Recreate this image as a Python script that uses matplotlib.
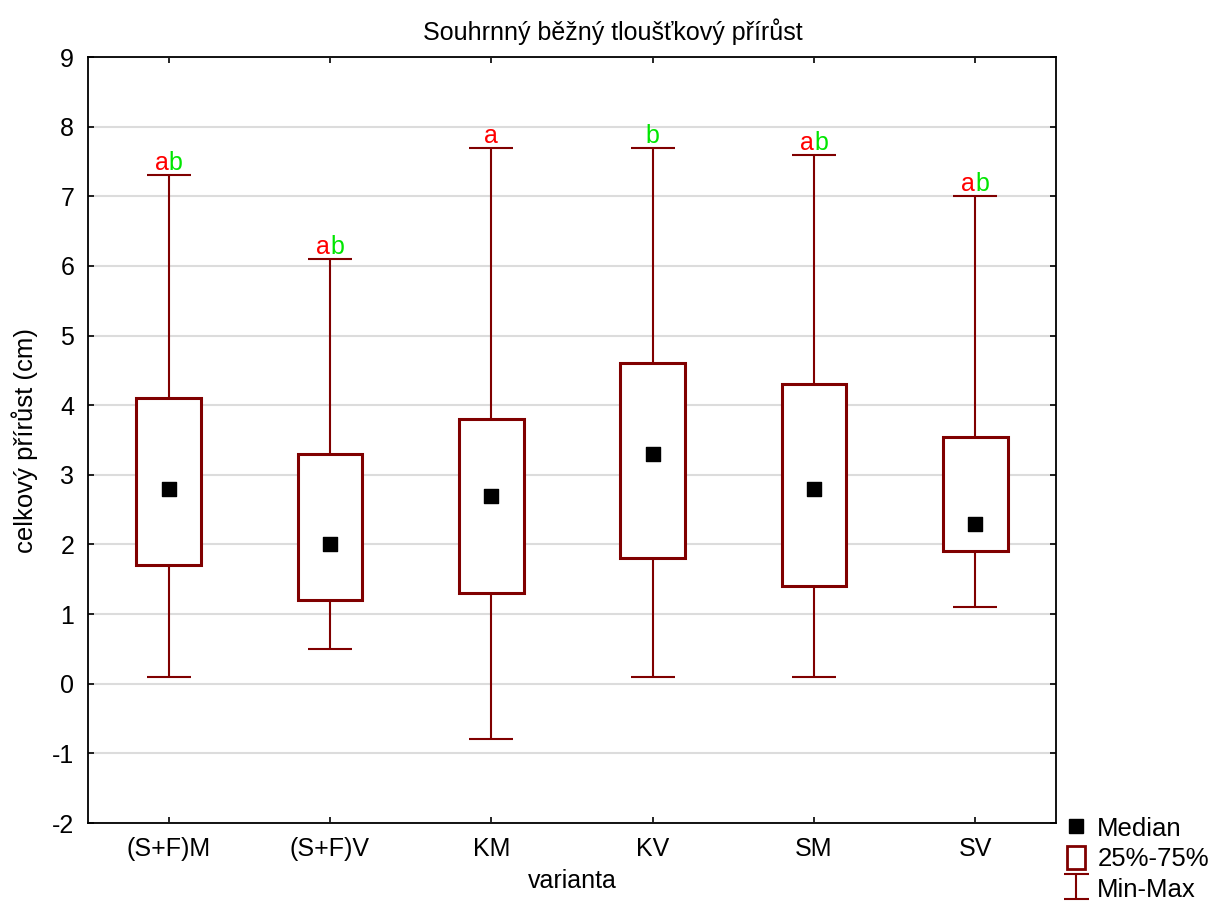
import numpy as np
import matplotlib
matplotlib.use("Agg")
import matplotlib.pyplot as plt
from matplotlib.patches import Rectangle
from matplotlib.lines import Line2D

plt.rcParams.update({
    "font.family": ["Liberation Sans", "DejaVu Sans"],
    "font.size": 18,
    "axes.unicode_minus": False,
})

# ---------------------------------------------------------------------------
# Data
# ---------------------------------------------------------------------------
categories = ["(S+F)M", "(S+F)V", "KM", "KV", "SM", "SV"]
mins    = [0.1, 0.5, -0.8, 0.1, 0.1, 1.1]
q1      = [1.7, 1.2, 1.3, 1.8, 1.4, 1.9]
medians = [2.8, 2.0, 2.7, 3.3, 2.8, 2.3]
q3      = [4.1, 3.3, 3.8, 4.6, 4.3, 3.55]
maxs    = [7.3, 6.1, 7.7, 7.7, 7.6, 7.0]
letters_a = [True, True, True, False, True, True]
letters_b = [True, True, False, True, True, True]

DARK_RED = "#800000"
RED = "#ff0000"
GREEN = "#00e600"

fig = plt.figure(figsize=(12.09, 9.05), dpi=100)
ax = fig.add_axes([0.0728, 0.0906, 0.8006, 0.8464])

x = np.arange(1, len(categories) + 1)
med = np.array(medians)
lo = med - np.array(mins)
hi = np.array(maxs) - med

# whiskers (Min-Max)
ax.errorbar(x, med, yerr=[lo, hi], fmt="none", ecolor=DARK_RED,
            elinewidth=1.5, capsize=16, capthick=1.5, zorder=2)

# boxes (25%-75%)
ax.bar(x, np.array(q3) - np.array(q1), bottom=q1, width=0.4,
       facecolor="white", edgecolor=DARK_RED, linewidth=2.2, zorder=3)

# medians
ax.scatter(x, medians, marker="s", s=110, color="black", zorder=4)

# significance letters
for xi, top, la, lb in zip(x, maxs, letters_a, letters_b):
    if la and lb:
        ax.annotate("a", (xi, top), xytext=(0, 0), textcoords="offset points",
                    ha="right", va="bottom", color=RED)
        ax.annotate("b", (xi, top), xytext=(0, 0), textcoords="offset points",
                    ha="left", va="bottom", color=GREEN)
    elif la:
        ax.annotate("a", (xi, top), xytext=(0, 0), textcoords="offset points",
                    ha="center", va="bottom", color=RED)
    elif lb:
        ax.annotate("b", (xi, top), xytext=(0, 0), textcoords="offset points",
                    ha="center", va="bottom", color=GREEN)

ax.set_xlim(0.5, len(categories) + 0.5)
ax.set_ylim(-2, 9)
ax.set_yticks(np.arange(-2, 10, 1))
ax.set_xticks(x)
ax.set_xticklabels(categories)
ax.yaxis.grid(True, color="#dcdcdc", linewidth=1.5, zorder=0)
ax.set_axisbelow(True)
ax.tick_params(direction="in", length=4, width=1.2, top=True, right=True,
               labelsize=18, pad=10)
for s in ax.spines.values():
    s.set_linewidth(1.3)

ax.set_title("Souhrnný běžný tloušťkový přírůst", fontsize=18, pad=12, x=0.542)
ax.set_xlabel("varianta", fontsize=18, labelpad=6)
ax.set_ylabel("celkový přírůst (cm)", fontsize=18.5, labelpad=10)

# legend
h_med = Line2D([], [], marker="s", linestyle="none", color="black", markersize=10)
h_box = Rectangle((0, 0), 1, 1, facecolor="white", edgecolor=DARK_RED, linewidth=2)
h_rng = ax.errorbar([np.nan], [np.nan], yerr=[[1.0], [1.0]], fmt="none",
                    ecolor=DARK_RED, elinewidth=1.5, capsize=9, capthick=1.5)
ax.legend([h_med, h_box, h_rng], ["Median", "25%-75%", "Min-Max"],
          loc="upper left", bbox_to_anchor=(0.995, 0.03), frameon=False,
          fontsize=18.5, handlelength=0.7, handleheight=1.0, handletextpad=0.5,
          labelspacing=0.2, borderaxespad=0.2)

fig.savefig("out.png", dpi=100)
